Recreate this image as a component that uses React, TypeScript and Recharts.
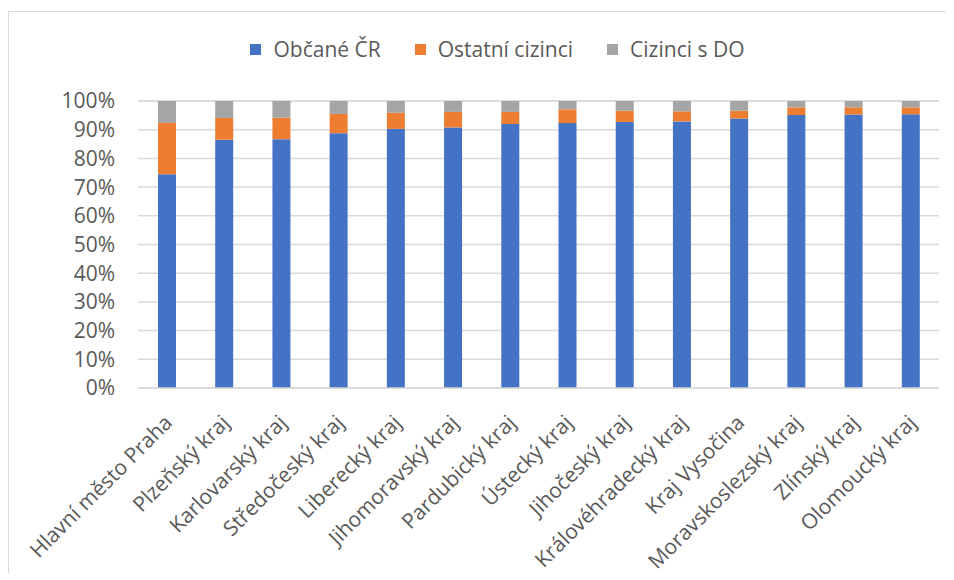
import React from "react";
import { BarChart, Bar, XAxis, YAxis, CartesianGrid } from "recharts";

const categories = [
  "Hlavní město Praha",
  "Plzeňský kraj",
  "Karlovarský kraj",
  "Středočeský kraj",
  "Liberecký kraj",
  "Jihomoravský kraj",
  "Pardubický kraj",
  "Ústecký kraj",
  "Jihočeský kraj",
  "Královéhradecký kraj",
  "Kraj Vysočina",
  "Moravskoslezský kraj",
  "Zlínský kraj",
  "Olomoucký kraj",
];

const obcaneCR = [74.5, 86.5, 86.7, 88.8, 90.3, 90.8, 92.0, 92.3, 92.7, 92.9, 93.9, 95.1, 95.3, 95.4];
const ostatniCizinci = [17.9, 7.6, 7.5, 6.7, 5.6, 5.4, 4.2, 4.8, 3.9, 3.5, 2.7, 2.7, 2.5, 2.4];
const ciziniSDO = [7.6, 5.9, 5.8, 4.5, 4.1, 3.8, 3.8, 2.9, 3.4, 3.6, 3.4, 2.2, 2.2, 2.2];

const yTicks = [0, 10, 20, 30, 40, 50, 60, 70, 80, 90, 100];

const seriesNames = ["Občané ČR", "Ostatní cizinci", "Cizinci s DO"];
const colors = ["#4472C4", "#ED7D31", "#A5A5A5"];

const data = categories.map((c, i) => ({
  name: c,
  a: obcaneCR[i],
  b: ostatniCizinci[i],
  c: ciziniSDO[i],
}));

const FONT = "'Open Sans', sans-serif";
const TEXT = "#595959";
const FS = 21;

const XTick = (props: any) => {
  const { x, y, payload } = props;
  const px = x + 7;
  const py = y + 36;
  return (
    <text
      x={px}
      y={py}
      transform={`rotate(-45, ${px}, ${py})`}
      textAnchor="end"
      fill={TEXT}
      fontSize={FS}
      fontFamily={FONT}
    >
      {payload.value}
    </text>
  );
};

export default function App() {
  return (
    <div
      style={{
        marginTop: 3,
        width: 945,
        height: 561,
        borderTop: "1px solid #d9d9d9",
        borderLeft: "1px solid #d9d9d9",
        position: "relative",
        background: "#fff",
      }}
    >
      <div
        style={{
          position: "absolute",
          top: 23,
          left: 0,
          width: 945,
          height: 28,
          display: "flex",
          justifyContent: "center",
          alignItems: "center",
          fontFamily: FONT,
          fontSize: FS,
          color: TEXT,
          paddingLeft: 32,
          boxSizing: "border-box",
        }}
      >
        {seriesNames.map((n, i) => (
          <div
            key={n}
            style={{ display: "flex", alignItems: "center", marginRight: i < 2 ? 34 : 0 }}
          >
            <span
              style={{
                display: "inline-block",
                width: 11,
                height: 11,
                background: colors[i],
                marginRight: 12,
              }}
            />
            <span>{n}</span>
          </div>
        ))}
      </div>
      <BarChart
        width={945}
        height={561}
        data={data}
        margin={{ top: 89, right: 15, left: 0, bottom: 0 }}
      >
        <CartesianGrid vertical={false} stroke="#d9d9d9" strokeWidth={1.5} />
        <XAxis
          dataKey="name"
          interval={0}
          height={185}
          tickLine={false}
          tickSize={0}
          tickMargin={0}
          axisLine={{ stroke: "#d9d9d9", strokeWidth: 1.5 }}
          tick={<XTick />}
        />
        <YAxis
          width={129}
          domain={[0, 100]}
          ticks={yTicks}
          interval={0}
          tickFormatter={(v: number) => `${v}%`}
          axisLine={false}
          tickLine={false}
          tickSize={0}
          tickMargin={23}
          tick={{ fill: TEXT, fontSize: FS, fontFamily: FONT }}
        />
        <Bar dataKey="a" stackId="s" fill={colors[0]} barSize={18} isAnimationActive={false} />
        <Bar dataKey="b" stackId="s" fill={colors[1]} barSize={18} isAnimationActive={false} />
        <Bar dataKey="c" stackId="s" fill={colors[2]} barSize={18} isAnimationActive={false} />
      </BarChart>
    </div>
  );
}
